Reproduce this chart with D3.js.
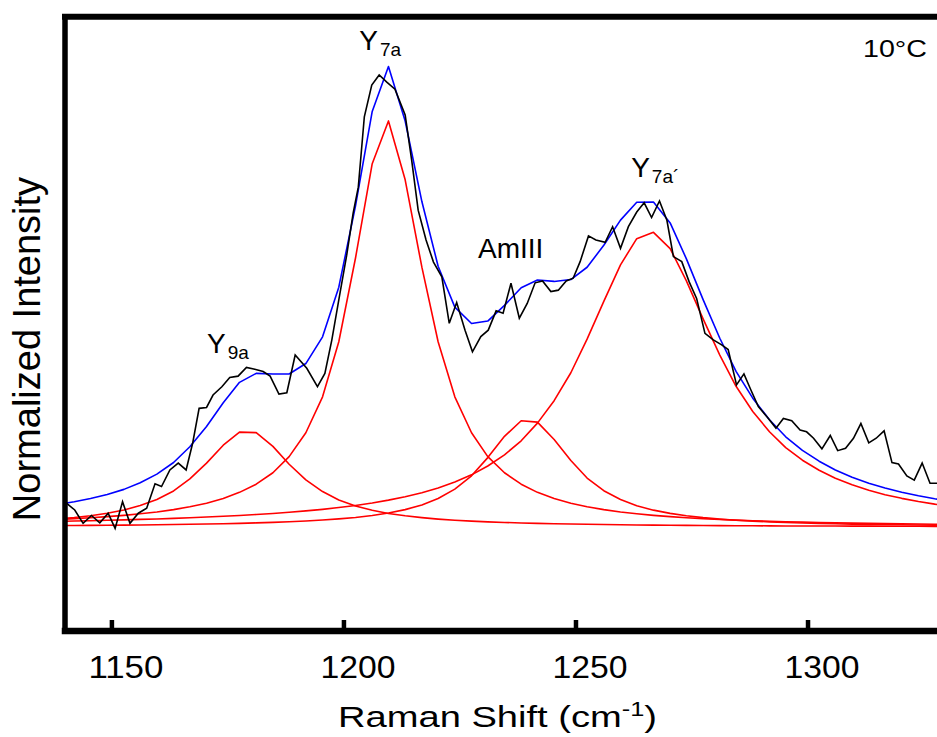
<!DOCTYPE html>
<html>
<head>
<meta charset="utf-8">
<script src="https://cdn.jsdelivr.net/npm/d3@7"></script>
<style>
  html, body { margin: 0; padding: 0; background: #fff; }
  svg { display: block; }
  text { font-family: "Liberation Sans", Arial, Helvetica, sans-serif; fill: #000; }
</style>
</head>
<body>
<svg id="chart" width="937" height="737"></svg>
<script>
// ---- Data -------------------------------------------------------------
// x-axis ticks (Raman shift, cm-1)
const xTicks = [1150, 1200, 1250, 1300];

// Measured spectrum at 10 °C (Raman shift, normalized intensity)
const measuredShift = [
  1140.3, 1142.1, 1143.9, 1145.7, 1147.5, 1149.3, 1150.8, 1152.4, 1154.0, 1155.8,
  1157.6, 1159.4, 1160.8, 1162.6, 1164.4, 1166.1, 1167.5, 1168.9, 1170.5, 1171.9,
  1173.8, 1175.5, 1177.3, 1179.1, 1180.9, 1182.7, 1184.2, 1186.1, 1187.8, 1189.6,
  1192.1, 1194.4, 1196.0, 1197.5, 1199.0, 1200.7, 1202.1, 1203.2, 1204.5, 1206.1,
  1207.7, 1209.4, 1211.1, 1213.3, 1214.7, 1216.1, 1217.8, 1219.4, 1221.2, 1222.8,
  1224.4, 1226.2, 1227.8, 1229.6, 1231.2, 1232.9, 1234.4, 1236.1, 1237.9, 1239.6,
  1241.3, 1242.9, 1244.7, 1246.3, 1248.0, 1249.5, 1251.0, 1252.8, 1254.4, 1256.4,
  1258.0, 1259.7, 1261.4, 1263.2, 1264.8, 1266.4, 1268.1, 1269.7, 1271.1, 1272.9,
  1274.5, 1276.1, 1277.9, 1279.7, 1281.5, 1282.9, 1284.7, 1286.3, 1287.8, 1289.4,
  1291.3, 1293.2, 1294.8, 1296.6, 1298.4, 1299.8, 1301.3, 1303.1, 1304.9, 1306.5,
  1308.2, 1309.9, 1311.5, 1313.2, 1314.8, 1316.5, 1318.2, 1319.6, 1321.4, 1323.0,
  1324.7, 1326.4, 1327.9
];
const measuredIntensity = [
  5.2, 3.7, 0.8, 2.5, 0.9, 3.0, -0.3, 5.5, 0.8, 3.0,
  4.1, 9.4, 8.8, 12.4, 13.9, 12.4, 18.2, 25.8, 26.0, 28.7,
  30.5, 32.5, 32.8, 34.7, 34.3, 33.8, 32.8, 28.9, 29.2, 37.4,
  34.5, 30.5, 33.4, 40.7, 49.4, 59.1, 68.3, 73.9, 89.2, 96.1,
  98.3, 96.7, 95.2, 89.6, 79.8, 68.9, 62.4, 57.6, 54.4, 44.3,
  48.8, 42.8, 38.1, 41.4, 42.8, 47.0, 46.5, 53.0, 45.4, 48.6,
  53.1, 53.5, 51.2, 51.5, 53.5, 54.1, 57.7, 63.3, 62.4, 61.9,
  65.3, 60.6, 65.3, 68.5, 70.5, 67.3, 70.9, 66.7, 58.8, 57.7,
  53.3, 49.7, 42.1, 40.7, 39.6, 38.6, 30.9, 33.3, 29.8, 26.2,
  23.9, 21.5, 23.6, 23.1, 21.1, 20.7, 19.3, 17.0, 19.9, 16.6,
  17.1, 19.3, 22.5, 18.3, 19.3, 20.9, 14.0, 13.7, 11.1, 10.2,
  13.9, 9.5, 9.5
];

// Band-fit grid (Raman shift, cm-1)
const fitShift = [
  1138.4, 1142.0, 1145.5, 1149.1, 1152.7, 1156.2, 1159.8, 1163.4, 1166.9, 1170.5,
  1174.1, 1177.6, 1181.2, 1184.8, 1188.3, 1191.9, 1195.5, 1199.0, 1202.6, 1206.2,
  1209.7, 1213.3, 1216.9, 1220.4, 1224.0, 1227.6, 1231.1, 1234.7, 1238.3, 1241.8,
  1245.4, 1249.0, 1252.5, 1256.1, 1259.7, 1263.2, 1266.8, 1270.4, 1273.9, 1277.5,
  1281.1, 1284.6, 1288.2, 1291.8, 1295.3, 1298.9, 1302.5, 1306.0, 1309.6, 1313.2,
  1316.7, 1320.3, 1323.9, 1327.4, 1331.0
];
// Fitted component bands
const fitY9a = [
  1.74, 2.06, 2.46, 2.99, 3.69, 4.66, 5.98, 7.84, 10.45, 13.89,
  17.78, 20.63, 20.51, 17.53, 13.64, 10.24, 7.70, 5.87, 4.57, 3.64,
  2.95, 2.43, 2.03, 1.72, 1.48, 1.28, 1.12, 0.99, 0.88, 0.78,
  0.70, 0.64, 0.58, 0.53, 0.48, 0.44, 0.41, 0.38, 0.35, 0.32,
  0.30, 0.28, 0.26, 0.25, 0.23, 0.22, 0.21, 0.20, 0.19, 0.18,
  0.17, 0.16, 0.15, 0.14, 0.14
];
const fitY7a = [
  1.64, 1.81, 2.01, 2.25, 2.53, 2.87, 3.27, 3.78, 4.40, 5.18,
  6.20, 7.53, 9.31, 11.79, 15.30, 20.49, 28.30, 40.28, 58.50, 79.00,
  88.30, 75.50, 56.50, 40.28, 28.30, 20.49, 15.30, 11.79, 9.31, 7.53,
  6.20, 5.18, 4.40, 3.78, 3.27, 2.87, 2.53, 2.25, 2.01, 1.81,
  1.64, 1.49, 1.36, 1.24, 1.14, 1.05, 0.98, 0.91, 0.84, 0.79,
  0.74, 0.69, 0.65, 0.61, 0.57
];
const fitAmIII = [
  0.30, 0.33, 0.35, 0.38, 0.41, 0.44, 0.48, 0.53, 0.58, 0.64,
  0.71, 0.79, 0.89, 1.00, 1.14, 1.30, 1.51, 1.76, 2.08, 2.50,
  3.05, 3.78, 4.79, 6.21, 8.24, 11.14, 15.09, 19.71, 23.10, 22.80,
  19.04, 14.45, 10.65, 7.89, 5.97, 4.62, 3.66, 2.96, 2.43, 2.03,
  1.72, 1.47, 1.28, 1.12, 0.98, 0.87, 0.78, 0.70, 0.63, 0.57,
  0.52, 0.48, 0.44, 0.41, 0.37
];
const fitY7aPrime = [
  1.23, 1.30, 1.37, 1.46, 1.55, 1.65, 1.75, 1.88, 2.01, 2.16,
  2.32, 2.50, 2.71, 2.94, 3.20, 3.50, 3.84, 4.24, 4.69, 5.22,
  5.84, 6.58, 7.45, 8.50, 9.78, 11.34, 13.27, 15.70, 18.74, 22.59,
  27.46, 33.54, 40.85, 49.06, 57.01, 62.70, 64.07, 60.54, 53.52, 45.27,
  37.38, 30.60, 25.11, 20.72, 17.26, 14.52, 12.35, 10.59, 9.17, 8.00,
  7.03, 6.23, 5.55, 4.97, 4.48
];
// Cumulative fit (sum of the four bands)
const fitTotal = [
  4.91, 5.49, 6.19, 7.07, 8.18, 9.62, 11.49, 14.02, 17.44, 21.87,
  27.01, 31.45, 33.41, 33.26, 33.28, 35.54, 41.35, 52.15, 69.85, 90.36,
  100.14, 88.29, 70.77, 56.71, 47.80, 44.25, 44.78, 48.19, 52.03, 53.70,
  53.40, 53.81, 56.48, 61.26, 66.73, 70.63, 70.67, 66.12, 58.31, 49.44,
  41.04, 33.85, 28.01, 23.32, 19.62, 16.66, 14.31, 12.39, 10.82, 9.53,
  8.46, 7.55, 6.78, 6.13, 5.56
];

// ---- Chart ------------------------------------------------------------
const W = 937, H = 737;
const plotLeft = 65, plotTop = 17, plotBottom = 631, plotRight = W;

const svg = d3.select("#chart");
svg.append("rect").attr("width", W).attr("height", H).attr("fill", "#fff");

const x = d3.scaleLinear().domain([1140, 1327.9]).range([plotLeft, plotRight]);
const y = d3.scaleLinear().domain([-22.4, 110.9]).range([630, 17]);

svg.append("defs").append("clipPath").attr("id", "plot-clip")
  .append("rect").attr("x", plotLeft).attr("y", plotTop)
  .attr("width", plotRight - plotLeft).attr("height", plotBottom - plotTop);

const plot = svg.append("g").attr("clip-path", "url(#plot-clip)");

const line = d3.line().x(d => x(d[0])).y(d => y(d[1]));
const pairs = (xs, ys) => xs.map((v, i) => [v, ys[i]]);

// component bands
[fitY9a, fitY7a, fitAmIII, fitY7aPrime].forEach(band => {
  plot.append("path")
    .attr("d", line(pairs(fitShift, band)))
    .attr("fill", "none").attr("stroke", "#ff0000").attr("stroke-width", 1.6)
    .attr("stroke-linejoin", "round");
});

// cumulative fit
plot.append("path")
  .attr("d", line(pairs(fitShift, fitTotal)))
  .attr("fill", "none").attr("stroke", "#0000ff").attr("stroke-width", 1.6)
  .attr("stroke-linejoin", "round");

// measured spectrum
plot.append("path")
  .attr("d", line(pairs(measuredShift, measuredIntensity)))
  .attr("fill", "none").attr("stroke", "#000").attr("stroke-width", 1.6)
  .attr("stroke-linejoin", "miter");

// ---- Frame and axis ---------------------------------------------------
const frame = svg.append("g").attr("stroke", "#000").attr("stroke-linecap", "square");
frame.append("line").attr("x1", plotLeft).attr("x2", plotRight + 5)
  .attr("y1", 16.7).attr("y2", 16.7).attr("stroke-width", 6);
frame.append("line").attr("x1", plotLeft).attr("x2", plotLeft)
  .attr("y1", 16.7).attr("y2", plotBottom).attr("stroke-width", 5.5);
frame.append("line").attr("x1", plotLeft).attr("x2", plotRight + 5)
  .attr("y1", plotBottom).attr("y2", plotBottom).attr("stroke-width", 6.5);

const xAxis = d3.axisBottom(x)
  .tickValues(xTicks)
  .tickSizeInner(-11)
  .tickSizeOuter(0)
  .tickFormat(d3.format("d"));

const gx = svg.append("g")
  .attr("transform", `translate(0,${plotBottom})`)
  .call(xAxis);
gx.select(".domain").remove();
gx.attr("font-family", null).attr("font-size", null);
gx.selectAll(".tick line").attr("stroke", "#000").attr("stroke-width", 4.5);
gx.selectAll(".tick text")
  .attr("fill", "#000")
  .attr("y", 47).attr("dy", null).attr("dx", 14)
  .attr("font-size", 31)
  .attr("textLength", 75).attr("lengthAdjust", "spacingAndGlyphs");

// axis titles
const xTitle = svg.append("text")
  .attr("transform", "translate(497.5,727) scale(1.27,1)")
  .attr("text-anchor", "middle")
  .attr("font-size", 30);
xTitle.append("tspan").text("Raman Shift (cm");
xTitle.append("tspan").attr("font-size", 20).attr("dy", -11).text("-1");
xTitle.append("tspan").attr("dy", 11).text(")");

svg.append("text")
  .attr("transform", "translate(40,349) rotate(-90)")
  .attr("text-anchor", "middle")
  .attr("font-size", 38)
  .text("Normalized Intensity");

// temperature tag
svg.append("text")
  .attr("x", 927).attr("y", 56.7)
  .attr("text-anchor", "end")
  .attr("font-size", 24)
  .attr("textLength", 64).attr("lengthAdjust", "spacingAndGlyphs")
  .text("10°C");

// band labels
function bandLabel(xv, yv, main, sub) {
  const t = svg.append("text")
    .attr("x", x(xv)).attr("y", y(yv))
    .attr("font-size", 28);
  t.append("tspan").text(main);
  if (sub) t.append("tspan").attr("font-size", 19).attr("dx", 2).attr("dy", 6).text(sub);
  return t;
}
bandLabel(1203.4, 103.7, "Y", "7a");
bandLabel(1170.6, 37.8, "Y", "9a");
bandLabel(1262.0, 76.1, "Y", "7a´");
bandLabel(1229.0, 58.5, "AmIII", null);
</script>
</body>
</html>
